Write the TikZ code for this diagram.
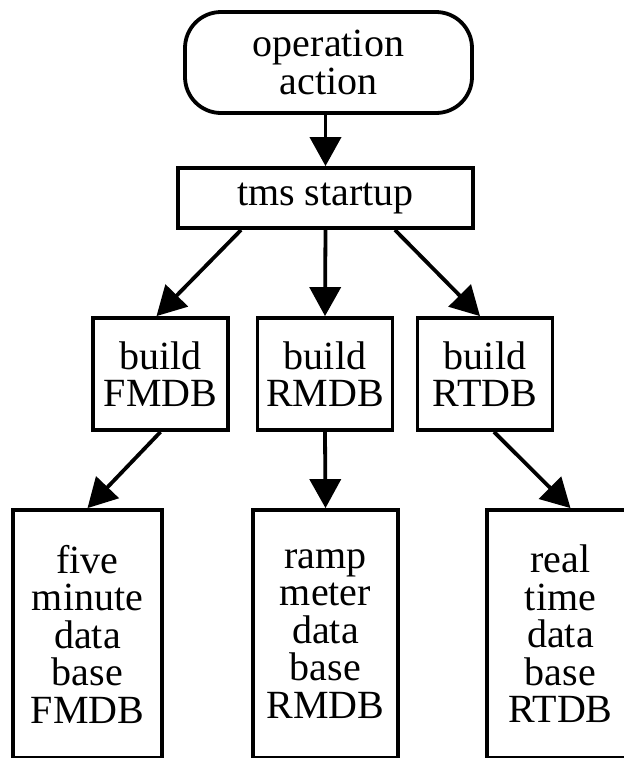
\documentclass[tikz,border=0pt]{standalone}
\usepackage{fontspec}
\setmainfont{Liberation Serif}
\usetikzlibrary{arrows.meta,calc}
\begin{document}
\begin{tikzpicture}[x=1pt,y=-1pt,
  box/.style={draw=black,line width=3.8pt,inner sep=0pt,align=center,
    font=\fontsize{40}{37.5}\selectfont},
  buildbox/.style={box,minimum width=135pt,minimum height=112pt},
  dbbox/.style={box,minimum width=147pt,minimum height=248pt},
  arr/.style={line width=3.8pt,-{Triangle[width=31pt,length=29pt]}}]
\useasboundingbox (0,0) rectangle (624,758);
\node[box,rounded corners=36pt,minimum width=287pt,minimum height=101pt] (op) at (328.5,62.5) {operation\\action};
\node[box,minimum width=295pt,minimum height=60pt] (tms) at (325.5,198) {tms startup};
\node[buildbox] (b1) at (160.5,374) {build\\FMDB};
\node[buildbox] (b2) at (325,374) {build\\RMDB};
\node[buildbox] (b3) at (485,374) {build\\RTDB};
\node[dbbox,minimum width=149pt] (d1) at (87.5,634) {five\\minute\\data\\base\\FMDB};
\node[dbbox,minimum width=145pt] (d2) at (325.5,634) {ramp\\meter\\data\\base\\RMDB};
\node[dbbox] (d3) at (560.5,634) {real\\time\\data\\base\\RTDB};
\draw[arr] (tms.north |- op.south) -- (tms.north);
\draw[arr] ($(tms.south west)+(65,0)$) -- ($(b1.north)+(-4,0)$);
\draw[arr] (tms.south) -- (b2.north);
\draw[arr] ($(tms.south east)+(-80,0)$) -- ($(b3.north)+(-5,0)$);
\draw[arr] (b1.south) -- (d1.north);
\draw[arr] (b2.south) -- (d2.north);
\draw[arr] ($(b3.south)+(9,0)$) -- ($(d3.north)+(10,0)$);
\end{tikzpicture}
\end{document}
